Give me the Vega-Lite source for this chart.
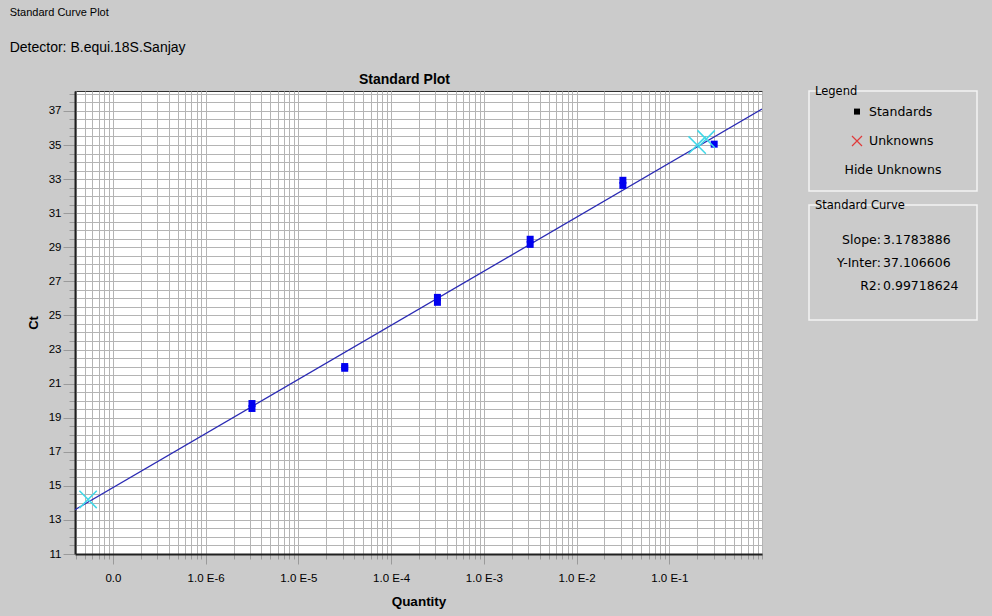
{
  "$schema": "https://vega.github.io/schema/vega-lite/v6.json",
  "background": "#cbcbcb",
  "padding": {"left": 9, "top": 6, "right": 14, "bottom": 12},
  "bounds": "flush",
  "spacing": 47,
  "title": {
    "text": "Standard Curve Plot",
    "subtitle": "Detector:    B.equi.18S.Sanjay",
    "anchor": "start",
    "fontSize": 11,
    "fontWeight": "normal",
    "subtitleFontSize": 14,
    "subtitleColor": "black",
    "subtitlePadding": 23,
    "offset": 18,
    "dx": -17
  },
  "config": {
    "font": "Liberation Sans",
    "title": {"color": "black"},
    "axis": {"labelColor": "black", "labelFontSize": 11.5, "titleColor": "black", "labelFont": "Liberation Sans", "titleFont": "Liberation Sans"}
  },
  "hconcat": [
    {
      "width": 687,
      "height": 463,
      "title": {"text": "Standard Plot", "fontSize": 14, "fontWeight": "bold", "offset": 4, "dx": -14},
      "view": {"fill": "white", "stroke": "#303030", "strokeWidth": 1},
      "layer": [
        {
          "data": {"values": [{"quantity": 3.9e-8, "ct": 13.6}, {"quantity": 1, "ct": 37.11}]},
          "mark": {"type": "line", "color": "#2a2ab4", "strokeWidth": 1.3, "clip": true},
          "encoding": {
            "x": {
              "field": "quantity", "type": "quantitative",
              "scale": {"type": "log", "domain": [3.9e-8, 1], "nice": false},
              "axis": {
                "orient": "bottom", "title": null, "labels": false, "domain": false,
                "values": [4e-8,5e-8,6e-8,7e-8,8e-8,9e-8,1e-7,2e-7,3e-7,4e-7,5e-7,6e-7,7e-7,8e-7,9e-7,1e-6,2e-6,3e-6,4e-6,5e-6,6e-6,7e-6,8e-6,9e-6,1e-5,2e-5,3e-5,4e-5,5e-5,6e-5,7e-5,8e-5,9e-5,1e-4,2e-4,3e-4,4e-4,5e-4,6e-4,7e-4,8e-4,9e-4,1e-3,2e-3,3e-3,4e-3,5e-3,6e-3,7e-3,8e-3,9e-3,1e-2,2e-2,3e-2,4e-2,5e-2,6e-2,7e-2,8e-2,9e-2,0.1,0.2,0.3,0.4,0.5,0.6,0.7,0.8,0.9,1],
                "tickSize": 5, "tickColor": "#9a9a9a", "grid": true, "gridColor": "#b4b4b4", "gridWidth": 1
              }
            },
            "y": {
              "field": "ct", "type": "quantitative",
              "scale": {"domain": [11, 38.17], "nice": false, "zero": false},
              "axis": {
                "orient": "left", "title": null, "labels": false, "domain": false,
                "values": [11,11.5,12,12.5,13,13.5,14,14.5,15,15.5,16,16.5,17,17.5,18,18.5,19,19.5,20,20.5,21,21.5,22,22.5,23,23.5,24,24.5,25,25.5,26,26.5,27,27.5,28,28.5,29,29.5,30,30.5,31,31.5,32,32.5,33,33.5,34,34.5,35,35.5,36,36.5,37,37.5,38],
                "tickSize": 6, "tickColor": "#9a9a9a", "grid": true, "gridColor": "#b4b4b4", "gridWidth": 1
              }
            }
          }
        },
        {
          "data": {"values": [
            {"quantity": 3.16e-6, "ct": 19.83},
            {"quantity": 3.16e-6, "ct": 19.54},
            {"quantity": 3.16e-5, "ct": 22.0},
            {"quantity": 3.16e-5, "ct": 21.9},
            {"quantity": 3.16e-4, "ct": 26.06},
            {"quantity": 3.16e-4, "ct": 25.77},
            {"quantity": 3.16e-3, "ct": 29.47},
            {"quantity": 3.16e-3, "ct": 29.17},
            {"quantity": 3.16e-2, "ct": 32.93},
            {"quantity": 3.16e-2, "ct": 32.63},
            {"quantity": 0.305, "ct": 35.05}
          ]},
          "mark": {"type": "point", "shape": "square", "filled": true, "color": "#0000f0", "size": 49, "opacity": 1},
          "encoding": {
            "x": {
              "field": "quantity", "type": "quantitative",
              "axis": {
                "orient": "bottom", "title": "Quantity", "titleFontSize": 13.5, "titleFontWeight": "bold", "titlePadding": 11,
                "values": [1e-7,1e-6,1e-5,1e-4,1e-3,1e-2,0.1],
                "labelExpr": "datum.value < 5e-7 ? '0.0' : '1.0 E' + round(log(datum.value) / LN10)",
                "tickSize": 10, "tickColor": "#9a9a9a", "labelPadding": 8,
                "domain": true, "domainColor": "#202020", "domainWidth": 2,
                "grid": true, "gridColor": "#b4b4b4"
              }
            },
            "y": {
              "field": "ct", "type": "quantitative",
              "axis": {
                "orient": "left", "title": "Ct", "titleFontSize": 13, "titleFontWeight": "bold", "titlePadding": 8,
                "values": [11,13,15,17,19,21,23,25,27,29,31,33,35,37],
                "tickSize": 12, "tickColor": "#9a9a9a", "labelPadding": 2,
                "domain": true, "domainColor": "#202020", "domainWidth": 2,
                "grid": true, "gridColor": "#b4b4b4"
              }
            }
          }
        },
        {
          "data": {"values": [
            {"quantity": 5.4e-8, "ct": 14.2},
            {"quantity": 0.2, "ct": 35.0},
            {"quantity": 0.25, "ct": 35.35}
          ]},
          "mark": {"type": "point", "shape": "M-1,-1L1,1M-1,1L1,-1", "filled": false, "color": "#40d8e8", "strokeWidth": 1.5, "size": 300, "opacity": 1},
          "encoding": {
            "x": {"field": "quantity", "type": "quantitative", "axis": null},
            "y": {"field": "ct", "type": "quantitative", "axis": null}
          }
        }
      ],
      "resolve": {"axis": {"x": "independent", "y": "independent"}}
    },
    {
      "bounds": "flush",
      "spacing": 14,
      "vconcat": [
        {
          "width": 168,
          "height": 100,
          "title": {"text": "Legend", "anchor": "start", "font": "DejaVu Sans", "fontSize": 11.5, "fontWeight": "normal", "offset": -6, "dx": 6},
          "view": {"fill": "#cbcbcb", "stroke": "#f4f4f4", "strokeWidth": 1.5},
          "data": {"values": [
            {"item": "Standards", "kind": "Standards"},
            {"item": "Unknowns", "kind": "Unknowns"},
            {"item": "Hide Unknowns", "kind": "button"}
          ]},
          "layer": [
            {
              "transform": [{"filter": "datum.kind == 'Standards'"}],
              "mark": {"type": "point", "shape": "square", "filled": true, "color": "black", "size": 36, "opacity": 1, "xOffset": -36},
              "encoding": {"y": {"field": "item", "type": "nominal", "axis": null, "scale": {"domain": ["Standards", "Unknowns", "Hide Unknowns"], "padding": 0.7}}}
            },
            {
              "transform": [{"filter": "datum.kind == 'Unknowns'"}],
              "mark": {"type": "point", "shape": "M-1,-1L1,1M-1,1L1,-1", "filled": false, "color": "#e03a3a", "strokeWidth": 1.2, "size": 100, "opacity": 1, "xOffset": -36},
              "encoding": {"y": {"field": "item", "type": "nominal", "axis": null}}
            },
            {
              "transform": [{"filter": "datum.kind != 'button'"}],
              "mark": {"type": "text", "align": "left", "dx": -24, "font": "DejaVu Sans", "fontSize": 12.5, "color": "black"},
              "encoding": {"y": {"field": "item", "type": "nominal", "axis": null}, "text": {"field": "item"}}
            },
            {
              "transform": [{"filter": "datum.kind == 'button'"}],
              "mark": {"type": "text", "align": "center", "font": "DejaVu Sans", "fontSize": 12.5, "color": "black"},
              "encoding": {"y": {"field": "item", "type": "nominal", "axis": null}, "text": {"field": "item"}}
            }
          ]
        },
        {
          "width": 168,
          "height": 115,
          "title": {"text": "Standard Curve", "anchor": "start", "font": "DejaVu Sans", "fontSize": 11.5, "fontWeight": "normal", "offset": -6, "dx": 6},
          "view": {"fill": "#cbcbcb", "stroke": "#f4f4f4", "strokeWidth": 1.5},
          "data": {"values": [
            {"stat": "Slope:", "value": "3.1783886"},
            {"stat": "Y-Inter:", "value": "37.106606"},
            {"stat": "R2:", "value": "0.99718624"}
          ]},
          "layer": [
            {
              "mark": {"type": "text", "align": "right", "dx": -12, "font": "DejaVu Sans", "fontSize": 12.5, "color": "black"},
              "encoding": {"y": {"field": "stat", "type": "nominal", "axis": null, "sort": null, "scale": {"type": "band", "paddingInner": 0, "paddingOuter": 1.375}}, "text": {"field": "stat"}}
            },
            {
              "mark": {"type": "text", "align": "left", "dx": -10, "font": "DejaVu Sans", "fontSize": 12.5, "color": "black"},
              "encoding": {"y": {"field": "stat", "type": "nominal", "axis": null, "sort": null}, "text": {"field": "value"}}
            }
          ]
        }
      ]
    }
  ]
}
